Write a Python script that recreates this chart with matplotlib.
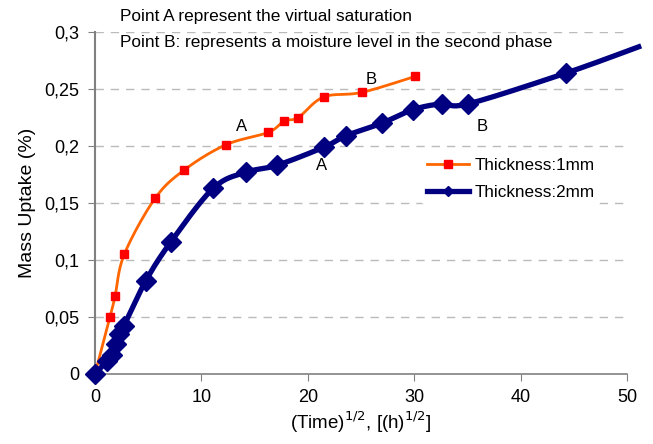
import numpy as np
import matplotlib
matplotlib.use("Agg")
import matplotlib.pyplot as plt
from matplotlib.ticker import FuncFormatter, MultipleLocator

# ---- data ----
x_1mm = [0, 1.41, 1.88, 2.75, 5.64, 8.39, 12.28, 16.29, 17.79, 19.10, 21.48, 25.07, 30.08]
y_1mm = [0, 0.050, 0.068, 0.105, 0.154, 0.179, 0.201, 0.212, 0.222, 0.225, 0.243, 0.247, 0.261]

x_2mm = [0, 1.1, 1.6, 2.0, 2.3, 2.7, 4.79, 7.14, 11.12, 14.19, 17.08, 21.52, 23.59,
         26.95, 29.92, 32.58, 35.08, 44.27, 51.1]
y_2mm = [0, 0.011, 0.017, 0.026, 0.035, 0.042, 0.082, 0.116, 0.163, 0.177, 0.183, 0.199,
         0.209, 0.220, 0.232, 0.237, 0.237, 0.264, 0.287]

labels = ["Thickness:1mm", "Thickness:2mm"]
point_labels = [("A", 13.8, 0.2175), ("B", 26.0, 0.258), ("A", 21.3, 0.183), ("B", 36.4, 0.2167)]
notes = ["Point A represent the virtual saturation",
         "Point B: represents a moisture level in the second phase"]


def smooth(x, y, n=20):
    x = np.asarray(x, float); y = np.asarray(y, float)
    P = np.column_stack([x, y])
    P = np.vstack([P[0], P, P[-1]])
    out = []
    for i in range(1, len(P) - 2):
        p0, p1, p2, p3 = P[i - 1], P[i], P[i + 1], P[i + 2]
        t = np.linspace(0, 1, n)[:, None]
        c1 = p1 + (p2 - p0) / 6.0
        c2 = p2 - (p3 - p1) / 6.0
        seg = ((1 - t) ** 3) * p1 + 3 * ((1 - t) ** 2) * t * c1 + 3 * (1 - t) * t ** 2 * c2 + t ** 3 * p2
        out.append(seg)
    S = np.vstack(out)
    return S[:, 0], S[:, 1]


plt.rcParams['font.family'] = ['Liberation Sans', 'DejaVu Sans']

fig = plt.figure(figsize=(6.53, 4.44), dpi=100)
ax = fig.add_axes([95 / 653, 1 - 374 / 444, (627 - 95) / 653, (374 - 32) / 444])

ax.set_xlim(0, 50)
ax.set_ylim(0, 0.3)

for gy in np.arange(0.05, 0.301, 0.05):
    ax.axhline(gy, color='#bbbbbb', lw=1, ls=(0, (6, 5)), zorder=0)

# orange series
sx, sy = smooth(x_1mm, y_1mm)
ax.plot(sx, sy, color='#FF6600', lw=2.0, zorder=3)
ax.plot(x_1mm, y_1mm, ls='none', marker='s', ms=5.5, color='#FF0000', zorder=4)

# blue series
bx, by = smooth(x_2mm, y_2mm)
ax.plot(bx, by, color='#000080', lw=3.8, zorder=5, clip_on=False)
ax.plot(x_2mm[:-1], y_2mm[:-1], ls='none', marker='D', ms=10, color='#000080', zorder=6, clip_on=False)

# legend proxies
h1, = ax.plot([], [], color='#FF6600', lw=2.0, marker='s', ms=6, mfc='#FF0000', mec='#FF0000')
h2, = ax.plot([], [], color='#000080', lw=3.8, marker='D', ms=5, mfc='#000080', mec='#000080')
leg = ax.legend([h1, h2], labels, loc='upper left', bbox_to_anchor=((413 - 95) / 532, 1 - (144 - 32) / 342),
                frameon=True, fontsize=12.3, handlelength=2.5, borderpad=0.3, labelspacing=0.7,
                handletextpad=0.3)
leg.get_frame().set_edgecolor('none')
leg.get_frame().set_facecolor('white')
leg.get_frame().set_alpha(1)
leg.set_zorder(2)

for t, px, py in point_labels:
    ax.text(px, py, t, fontsize=12, ha='center', va='center', zorder=7)

fig.text(120 / 653, 1 - 17 / 444, notes[0], fontsize=12.4, va='center', ha='left')
fig.text(120 / 653, 1 - 43 / 444, notes[1], fontsize=12.4, va='center', ha='left')

ax.xaxis.set_major_locator(MultipleLocator(10))
ax.yaxis.set_major_locator(MultipleLocator(0.05))
ax.yaxis.set_major_formatter(FuncFormatter(lambda v, p: ('%g' % round(v, 3)).replace('.', ',')))

for s in ['top', 'right']:
    ax.spines[s].set_visible(False)
ax.spines['left'].set_color('#808080')
ax.spines['bottom'].set_color('#808080')
ax.spines['left'].set_linewidth(1.5)
ax.spines['bottom'].set_linewidth(1.2)
ax.tick_params(axis='both', direction='out', length=5, color='#808080', labelsize=13, pad=6)

ax.set_xlabel('(Time)$^{1/2}$, [(h)$^{1/2}$]', fontsize=13.5, labelpad=2)
ax.set_ylabel('Mass Uptake (%)', fontsize=14, labelpad=6)

fig.savefig('out.png', dpi=100)
